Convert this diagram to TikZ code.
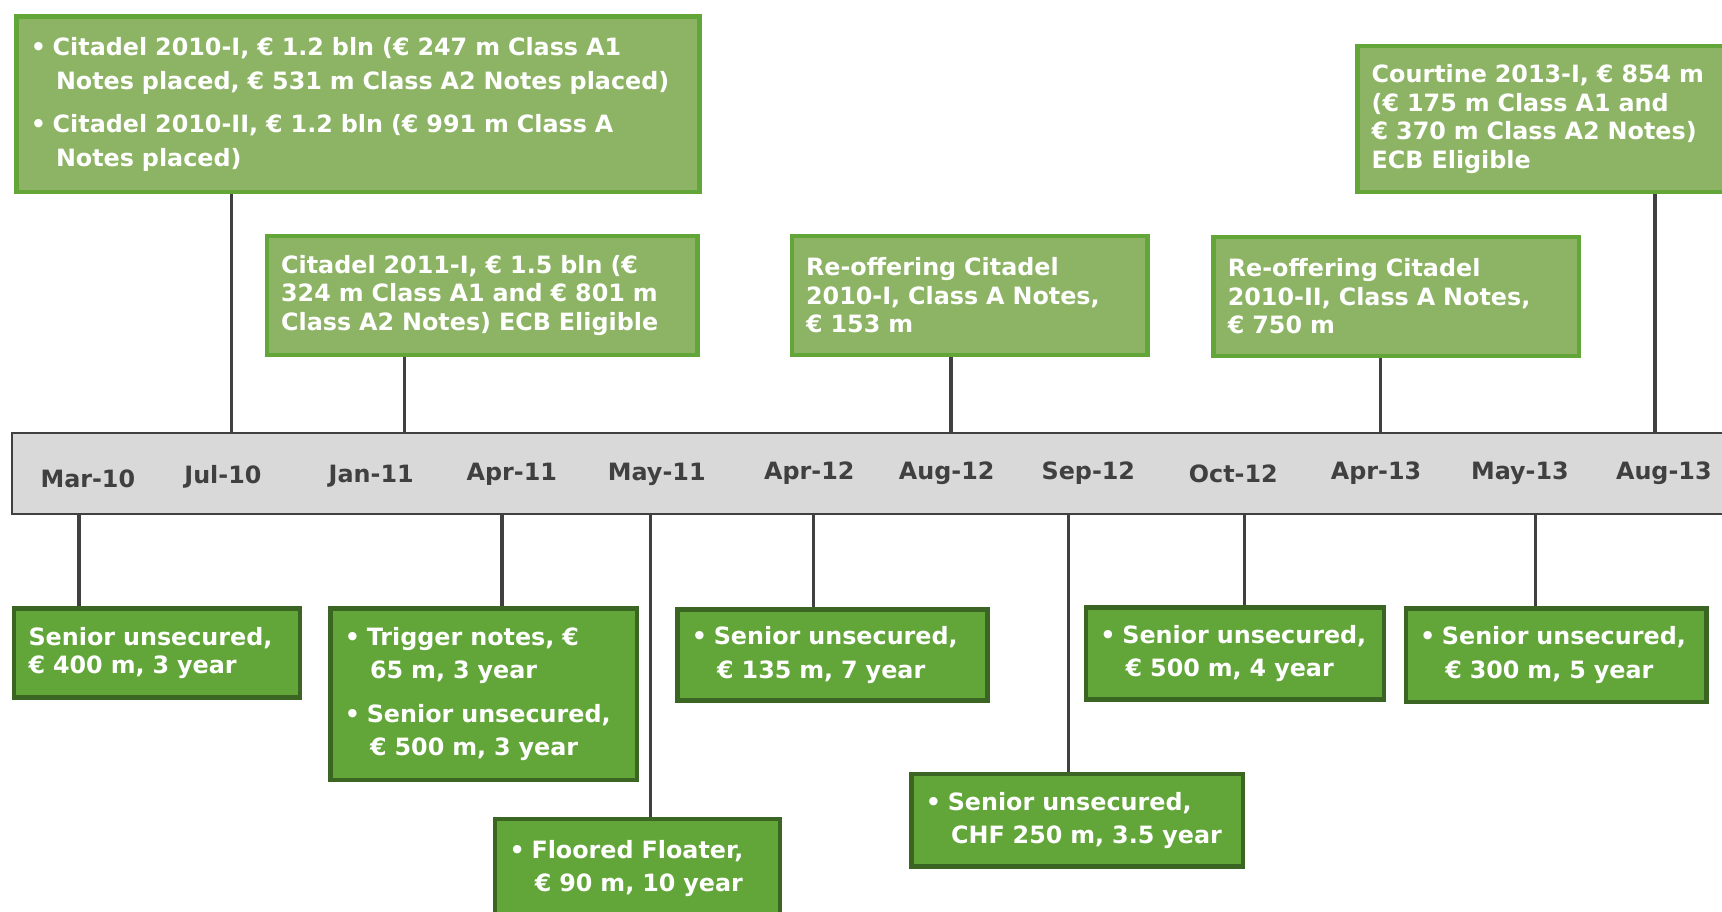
\documentclass[tikz,border=0pt]{standalone}
\usepackage{fontspec}
\setmainfont{DejaVu Sans}
\definecolor{leaf}{HTML}{8DB464}
\definecolor{grass}{HTML}{62A539}
\definecolor{moss}{HTML}{3B6522}
\definecolor{ink}{HTML}{404040}
\definecolor{rail}{HTML}{D9D9D9}
\newlength{\bulw}\setlength{\bulw}{20pt}
\newlength{\hangw}\setlength{\hangw}{23pt}
\newcommand{\bul}{\makebox[\bulw][l]{\textbullet}}
\newcommand{\cont}{\hspace*{\hangw}}

\begin{document}
\begin{tikzpicture}[x=1pt,y=-1pt,
    topbox/.style={draw=grass, fill=leaf, line width=4pt, anchor=north west, text=white,
        inner xsep=13pt, inner ysep=0pt, align=left, font=\bfseries\fontsize{21.7}{26}\selectfont},
    lowbox/.style={topbox, draw=moss, fill=grass},
    listed/.style={font=\bfseries\fontsize{21.7}{30.5}\selectfont},
    datelabel/.style={text=ink, font=\bfseries\fontsize{21.7}{26}\selectfont},
    stem/.style={draw=ink, line width=3pt}]
        \useasboundingbox (0,0) rectangle (1568,830.4);

        % Stem positions
        \coordinate (s1) at (211,0);
        \coordinate (s2) at (368,0);
        \coordinate (s3) at (866,0);
        \coordinate (s4) at (1257,0);
        \coordinate (s5) at (1507,0);
        \coordinate (r1) at (72,0);
        \coordinate (r2) at (457,0);
        \coordinate (r3) at (592,0);
        \coordinate (r4) at (741,0);
        \coordinate (r5) at (973,0);
        \coordinate (r6) at (1133,0);
        \coordinate (r7) at (1398,0);

        % Time bar
        \node[draw=ink, fill=rail, line width=2pt, anchor=north west, minimum width=1600pt, minimum height=74pt] (bar) at (10,393) {};

        \node[datelabel] (d1) at (80,436) {Mar-10};
        \node[datelabel] (d2) at (203,434) {Jul-10};
        \node[datelabel] (d3) at (338,434) {Jan-11};
        \node[datelabel] (d4) at (466,432) {Apr-11};
        \node[datelabel] (d5) at (598,432) {May-11};
        \node[datelabel] (d6) at (737,431) {Apr-12};
        \node[datelabel] (d7) at (862,431) {Aug-12};
        \node[datelabel] (d8) at (991,431) {Sep-12};
        \node[datelabel] (d9) at (1123,431) {Oct-12};
        \node[datelabel] (d10) at (1253,431) {Apr-13};
        \node[datelabel] (d11) at (1384,431) {May-13};
        \node[datelabel] (d12) at (1515,431) {Aug-13};

        % Securitisations (above)
        \node[topbox, listed, minimum width=622pt, minimum height=160pt, text width=596pt] (citadel1) at (13,13)
            {\bul Citadel 2010-I, € 1.2 bln (€ 247 m Class A1\\\cont Notes placed, € 531 m Class A2 Notes placed)\\[9pt]
             \bul Citadel 2010-II, € 1.2 bln (€ 991 m Class A\\\cont Notes placed)};
        \node[topbox, minimum width=392pt, minimum height=108pt, text width=366pt] (citadel2) at (241,213)
            {Citadel 2011-I, € 1.5 bln (€\\324 m Class A1 and € 801 m\\Class A2 Notes) ECB Eligible};
        \node[topbox, minimum width=324pt, minimum height=108pt, text width=298pt] (reoffer1) at (719,213)
            {Re-offering Citadel\\2010-I, Class A Notes,\\€ 153 m};
        \node[topbox, minimum width=333pt, minimum height=108pt, text width=307pt] (reoffer2) at (1103,214)
            {Re-offering Citadel\\2010-II, Class A Notes,\\€ 750 m};
        \node[topbox, minimum width=362pt, minimum height=133pt, text width=336pt] (courtine) at (1234,40)
            {Courtine 2013-I, € 854 m\\(€ 175 m Class A1 and\\€ 370 m Class A2 Notes)\\ECB Eligible};

        \draw[stem] (citadel1.south -| s1) -- (bar.north -| s1);
        \draw[stem] (citadel2.south -| s2) -- (bar.north -| s2);
        \draw[stem] (reoffer1.south -| s3) -- (bar.north -| s3);
        \draw[stem] (reoffer2.south -| s4) -- (bar.north -| s4);
        \draw[stem] (courtine.south -| s5) -- (bar.north -| s5);

        % Bonds (below)
        \node[lowbox, minimum width=260pt, minimum height=81pt, text width=234pt] (senior1) at (11,552)
            {Senior unsecured,\\€ 400 m, 3 year};
        \node[lowbox, listed, minimum width=279pt, minimum height=156pt, text width=253pt] (trigger) at (299,552)
            {\bul Trigger notes, €\\\cont 65 m, 3 year\\[9pt]\bul Senior unsecured,\\\cont € 500 m, 3 year};
        \node[lowbox, listed, minimum width=259pt, minimum height=90pt, text width=233pt] (floater) at (449,744)
            {\bul Floored Floater,\\\cont € 90 m, 10 year};
        \node[lowbox, listed, minimum width=282pt, minimum height=83pt, text width=256pt] (senior2) at (615,553)
            {\bul Senior unsecured,\\\cont € 135 m, 7 year};
        \node[lowbox, listed, minimum width=302pt, minimum height=84pt, text width=276pt] (senior3) at (828,703)
            {\bul Senior unsecured,\\\cont CHF 250 m, 3.5 year};
        \node[lowbox, listed, minimum width=271pt, minimum height=84pt, text width=245pt] (senior4) at (987,551)
            {\bul Senior unsecured,\\\cont € 500 m, 4 year};
        \node[lowbox, listed, minimum width=274pt, minimum height=85pt, text width=248pt] (senior5) at (1278,552)
            {\bul Senior unsecured,\\\cont € 300 m, 5 year};

        \draw[stem] (bar.south -| r1) -- (senior1.north -| r1);
        \draw[stem] (bar.south -| r2) -- (trigger.north -| r2);
        \draw[stem] (bar.south -| r3) -- (floater.north -| r3);
        \draw[stem] (bar.south -| r4) -- (senior2.north -| r4);
        \draw[stem] (bar.south -| r5) -- (senior3.north -| r5);
        \draw[stem] (bar.south -| r6) -- (senior4.north -| r6);
        \draw[stem] (bar.south -| r7) -- (senior5.north -| r7);
\end{tikzpicture}
\end{document}
